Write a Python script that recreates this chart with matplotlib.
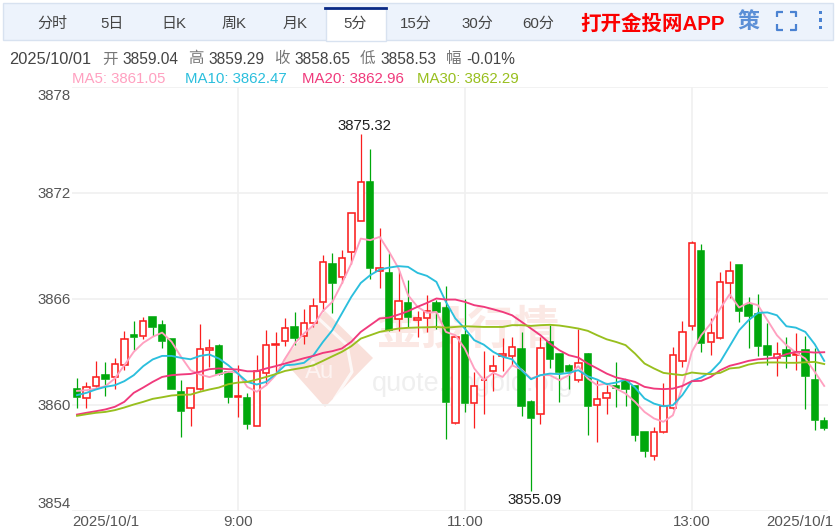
#!/usr/bin/env python3
# 5 minute gold candles with moving averages
import matplotlib
matplotlib.use('Agg')
from matplotlib import pyplot as plt
from matplotlib.patches import Polygon, Rectangle
from matplotlib.transforms import ScaledTranslation

plt.rcParams['font.family'] = ['Liberation Sans', 'Noto Sans CJK SC', 'DejaVu Sans']

opens = [3860.90, 3860.38, 3861.05, 3861.66, 3861.56, 3862.26, 3863.92, 3863.88, 3864.94, 3864.49,
         3863.73, 3860.73, 3859.81, 3860.90, 3863.09, 3863.30, 3861.85, 3860.41, 3860.39, 3858.81,
         3861.79, 3863.39, 3863.62, 3864.36, 3863.85, 3864.64, 3865.81, 3867.96, 3867.24, 3868.66,
         3870.41, 3872.58, 3867.53, 3867.47, 3864.83, 3865.72, 3864.81, 3864.90, 3865.72, 3865.49,
         3858.96, 3863.92, 3860.09, 3861.36, 3861.87, 3862.72, 3862.77, 3863.15, 3860.13, 3859.44,
         3863.51, 3862.87, 3862.17, 3861.36, 3862.87, 3860.00, 3860.39, 3861.02, 3861.34, 3861.02,
         3858.43, 3857.11, 3858.47, 3859.79, 3862.49, 3864.47, 3868.68, 3863.55, 3863.75, 3866.88,
         3867.90, 3865.62, 3865.15, 3863.30, 3862.66, 3863.07, 3862.83, 3863.07, 3861.38, 3859.04]
closes = [3860.43, 3861.00, 3861.56, 3861.47, 3862.28, 3863.70, 3863.83, 3864.75, 3864.39, 3863.60,
          3860.85, 3859.64, 3860.96, 3863.13, 3863.17, 3861.70, 3860.43, 3860.47, 3858.87, 3861.87,
          3863.34, 3863.45, 3864.34, 3863.77, 3864.64, 3865.60, 3868.07, 3866.88, 3868.30, 3870.85,
          3872.60, 3867.73, 3867.75, 3864.21, 3865.88, 3864.96, 3864.87, 3865.30, 3865.24, 3860.15,
          3863.83, 3860.09, 3861.05, 3861.41, 3862.19, 3862.85, 3863.26, 3859.92, 3859.22, 3863.21,
          3862.55, 3861.85, 3861.87, 3862.36, 3859.92, 3860.30, 3860.66, 3860.94, 3860.85, 3858.30,
          3857.38, 3858.47, 3859.90, 3862.79, 3864.13, 3869.15, 3863.47, 3864.07, 3866.96, 3867.53,
          3865.30, 3865.00, 3863.30, 3862.81, 3862.87, 3862.77, 3862.88, 3861.62, 3859.15, 3858.65]
highs = [3861.51, 3861.28, 3862.45, 3862.41, 3862.66, 3864.15, 3864.70, 3864.96, 3864.96, 3864.77,
         3863.73, 3861.41, 3860.96, 3864.55, 3863.73, 3863.45, 3861.85, 3862.26, 3860.66, 3862.79,
         3864.21, 3864.11, 3864.87, 3865.24, 3865.38, 3866.04, 3868.45, 3868.55, 3868.73, 3870.86,
         3875.32, 3874.49, 3870.01, 3868.58, 3867.56, 3867.04, 3865.28, 3866.22, 3865.90, 3866.70,
         3863.87, 3866.00, 3861.85, 3863.04, 3862.83, 3863.79, 3863.83, 3864.11, 3860.24, 3863.83,
         3864.49, 3862.88, 3862.28, 3864.30, 3862.94, 3861.38, 3861.09, 3862.41, 3861.38, 3861.04,
         3858.45, 3858.70, 3861.19, 3863.24, 3864.72, 3869.26, 3869.11, 3864.87, 3867.49, 3868.13,
         3867.92, 3866.09, 3866.26, 3864.64, 3863.51, 3863.81, 3864.02, 3863.88, 3863.22, 3859.29]
lows = [3859.81, 3859.81, 3861.00, 3860.49, 3860.90, 3861.98, 3863.07, 3863.68, 3863.87, 3863.21,
        3860.85, 3858.17, 3858.77, 3860.81, 3862.13, 3861.66, 3860.09, 3859.30, 3858.64, 3858.77,
        3861.09, 3861.85, 3863.32, 3863.36, 3863.41, 3864.39, 3865.30, 3865.19, 3866.85, 3867.98,
        3870.39, 3867.13, 3866.60, 3864.17, 3864.17, 3864.36, 3863.83, 3864.11, 3864.30, 3858.02,
        3858.92, 3859.58, 3858.68, 3859.45, 3860.77, 3861.88, 3862.26, 3859.36, 3855.09, 3858.92,
        3862.04, 3860.15, 3860.85, 3861.28, 3858.27, 3857.88, 3859.49, 3859.87, 3859.90, 3857.92,
        3857.04, 3856.88, 3858.39, 3859.75, 3862.13, 3864.21, 3862.98, 3862.81, 3863.73, 3866.05,
        3864.68, 3863.21, 3862.73, 3862.21, 3861.62, 3862.07, 3861.94, 3859.75, 3858.53, 3858.53]

ma5 = [3860.77, 3860.81, 3860.90, 3861.04, 3861.47, 3862.22, 3862.98, 3863.49, 3863.83, 3864.07,
       3863.55, 3862.70, 3861.94, 3861.70, 3861.55, 3861.72, 3861.85, 3861.81, 3861.00, 3860.72,
       3861.09, 3861.66, 3862.60, 3863.45, 3864.02, 3864.49, 3865.30, 3865.81, 3866.85, 3867.98,
       3869.39, 3869.30, 3869.49, 3868.64, 3867.70, 3866.19, 3865.53, 3865.19, 3865.24, 3864.11,
       3863.92, 3863.17, 3862.04, 3861.38, 3861.79, 3861.56, 3862.22, 3861.98, 3861.47, 3861.66,
       3861.66, 3861.38, 3861.66, 3862.17, 3861.47, 3861.09, 3861.19, 3860.90, 3860.62, 3860.15,
       3859.58, 3859.21, 3859.02, 3859.39, 3861.00, 3862.98, 3863.92, 3864.58, 3865.43, 3866.24,
       3865.49, 3865.77, 3865.62, 3864.77, 3863.92, 3863.36, 3862.94, 3862.60, 3861.85, 3861.05]
ma10 = [3860.53, 3860.66, 3860.85, 3861.00, 3861.09, 3861.32, 3861.66, 3862.17, 3862.55, 3862.75,
        3862.75, 3862.64, 3862.56, 3862.75, 3862.83, 3862.60, 3862.22, 3861.75, 3861.28, 3861.13,
        3861.28, 3861.72, 3862.22, 3862.26, 3862.36, 3862.79, 3863.54, 3864.21, 3865.15, 3866.09,
        3866.88, 3867.32, 3867.64, 3867.75, 3867.83, 3867.79, 3867.45, 3867.28, 3866.94, 3865.81,
        3864.87, 3864.30, 3863.64, 3863.39, 3862.98, 3862.70, 3862.56, 3861.94, 3861.43, 3861.66,
        3861.75, 3861.72, 3861.79, 3861.94, 3861.60, 3861.41, 3861.15, 3861.24, 3861.41, 3860.96,
        3860.34, 3860.05, 3859.90, 3859.96, 3860.53, 3861.32, 3861.53, 3861.85, 3862.41, 3863.30,
        3864.20, 3864.77, 3865.19, 3865.21, 3865.05, 3864.43, 3864.35, 3864.11, 3863.41, 3862.47]
ma20 = [3859.43, 3859.53, 3859.62, 3859.72, 3859.87, 3860.15, 3860.66, 3860.96, 3861.28, 3861.56,
        3861.66, 3861.70, 3861.73, 3861.85, 3862.00, 3862.04, 3862.00, 3861.98, 3861.88, 3861.88,
        3862.04, 3862.17, 3862.32, 3862.47, 3862.62, 3862.75, 3862.92, 3863.02, 3863.17, 3863.55,
        3864.11, 3864.49, 3864.87, 3864.92, 3865.09, 3865.28, 3865.53, 3865.75, 3866.00, 3865.94,
        3865.94, 3865.81, 3865.62, 3865.53, 3865.39, 3865.24, 3865.05, 3864.68, 3864.30, 3863.92,
        3863.45, 3863.07, 3862.79, 3862.66, 3862.32, 3862.04, 3861.75, 3861.53, 3861.41, 3861.28,
        3861.00, 3860.90, 3860.87, 3860.90, 3861.05, 3861.32, 3861.34, 3861.56, 3861.94, 3862.19,
        3862.32, 3862.47, 3862.56, 3862.60, 3862.66, 3862.85, 3862.98, 3862.98, 3862.94, 3862.96]
ma30 = [3859.36, 3859.45, 3859.53, 3859.58, 3859.68, 3859.83, 3860.00, 3860.15, 3860.32, 3860.41,
        3860.51, 3860.55, 3860.56, 3860.72, 3860.85, 3860.96, 3861.15, 3861.24, 3861.28, 3861.41,
        3861.56, 3861.72, 3861.90, 3862.00, 3862.09, 3862.22, 3862.47, 3862.73, 3862.98, 3863.30,
        3863.73, 3863.92, 3864.11, 3864.21, 3864.30, 3864.34, 3864.36, 3864.37, 3864.39, 3864.35,
        3864.39, 3864.43, 3864.41, 3864.39, 3864.39, 3864.39, 3864.49, 3864.49, 3864.45, 3864.49,
        3864.51, 3864.47, 3864.39, 3864.30, 3864.17, 3863.92, 3863.69, 3863.54, 3863.36, 3862.88,
        3862.32, 3862.04, 3861.79, 3861.72, 3861.66, 3861.81, 3861.75, 3861.72, 3861.79, 3862.04,
        3862.09, 3862.26, 3862.36, 3862.38, 3862.38, 3862.36, 3862.36, 3862.39, 3862.41, 3862.29]

ma_names = ['MA5', 'MA10', 'MA20', 'MA30']
ma_series = [ma5, ma10, ma20, ma30]
ma_colors = ['#ffa0c0', '#2bbfdd', '#f03a7c', '#98bf1e']
ma_label_x = [72, 185, 302, 417]

y_ticks = [3854, 3860, 3866, 3872, 3878]
x_tick_pos = [0, 17, 41, 65, 79]
x_tick_labels = ['2025/10/1', '9:00', '11:00', '13:00', '2025/10/1']

tabs = ['分时', '5日', '日K', '周K', '月K', '5分', '15分', '30分', '60分']
tab_x = [52, 112, 174, 234, 295, 355, 416, 477, 538]

header = ['2025/10/01', '开', '3859.04', '高', '3859.29', '收', '3858.65', '低', '3858.53', '幅', '-0.01%']
header_x = [9, 102, 122, 188, 208, 274, 294, 360, 380, 446, 466]

RED = '#fa1e1e'
GREEN = '#00a80c'
GRID = '#f0f0f0'
TEXT = '#555555'


def px(size):
    return size * 0.72


def draw_page(bg):
    # tab bar
    bg.add_patch(Rectangle((3, 3), 830, 37, fc='#edf3fc', ec='#d8e2f0', lw=1))
    bg.add_patch(Rectangle((325.5, 8), 60, 33, fc='white', ec='#d8e2f0', lw=1, zorder=2))
    bg.plot([325, 386], [8, 8], color='#0a2a86', lw=2, zorder=3)
    for name, x in zip(tabs, tab_x):
        bg.text(x, 24, name, ha='center', va='center', fontsize=px(15), color='#444444', zorder=4)
    bg.text(580, 24, '打开金投网APP', ha='left', va='center', fontsize=px(20.5), color='#fb0000',
            fontweight='bold')
    bg.text(748, 23, '策', ha='center', va='center', fontsize=px(22), color='#5b8fd6', fontweight='bold')

    # full screen corners and the menu dots
    corners = [([777, 777, 783], [17, 11.5, 11.5]), ([790, 796, 796], [11.5, 11.5, 17]),
               ([777, 777, 783], [24, 29.5, 29.5]), ([790, 796, 796], [29.5, 29.5, 24])]
    for cx, cy in corners:
        bg.plot(cx, cy, color='#4a82d2', lw=1.6, solid_capstyle='butt')
    for dy in [12.5, 20, 27.5]:
        bg.add_patch(Rectangle((818.5, dy - 1.7), 3.4, 3.4, fc='#4a82d2', ec='none'))

    for text, x in zip(header, header_x):
        is_cjk = len(text) == 1
        size = 16.4 if text == header[0] else 15.5
        bg.text(x, 59, text, ha='left', va='center', fontsize=px(size),
                color='#777777' if is_cjk else '#444444')

    # watermark
    bg.add_patch(Polygon([(283, 360), (325, 311), (373, 358), (325, 407)], fc='#f9e0da', ec='none'))
    bg.plot([318, 347, 352, 335], [318, 345, 372, 398], color='white', lw=2.2, alpha=0.8)
    bg.text(320, 372, 'Au', ha='center', va='center', fontsize=px(24), color='#fdf3f1')
    bg.text(375, 332, '金投行情', ha='left', va='center', fontsize=px(46), color='#fbe8e4',
            fontweight='bold')
    bg.text(372, 384, 'quote.cngold.org', ha='left', va='center', fontsize=px(27), color='#efefef')


def draw_candles(ax):
    for i in range(len(opens)):
        top = max(opens[i], closes[i])
        bottom = min(opens[i], closes[i])
        up = closes[i] >= opens[i]
        color = RED if up else GREEN
        ax.vlines(i, top, highs[i], color=color, lw=0.9, zorder=3)
        ax.vlines(i, lows[i], bottom, color=color, lw=0.9, zorder=3)
        ax.bar(i, top - bottom, bottom=bottom, width=0.68, facecolor='white' if up else color,
               edgecolor=color, lw=1.15, zorder=4)


fig = plt.figure(figsize=(8.36, 5.28), dpi=100)
bg = fig.add_axes([0, 0, 1, 1])
bg.set_xlim(0, 836)
bg.set_ylim(528, 0)
bg.axis('off')
draw_page(bg)

# chart area runs 72..828 px across and 86.5..510.5 px down
ax = fig.add_axes([72 / 836, (528 - 510.5) / 528, 756 / 836, 424 / 528])
ax.patch.set_alpha(0)
ax.set_xlim(-0.53, 79.4)
ax.set_ylim(3854, 3878)
for side in ax.spines:
    ax.spines[side].set_visible(False)

ax.set_yticks(y_ticks)
ax.set_yticklabels([str(v) for v in y_ticks])
ax.set_xticks(x_tick_pos)
ax.set_xticklabels(x_tick_labels)
ax.tick_params(length=0, labelsize=px(15), labelcolor=TEXT)
ax.tick_params(axis='y', pad=1)
ax.tick_params(axis='x', pad=3)
ax.set_axisbelow(True)
ax.grid(axis='y', color=GRID, lw=1.2, zorder=0)
for pos in x_tick_pos[1:-1]:
    ax.axvline(pos, color=GRID, lw=1.2, zorder=0)

ylabels = ax.get_yticklabels()
ylabels[0].set_va('bottom')
ylabels[-1].set_va('top')
ylabels[-1].set_transform(ylabels[-1].get_transform() + ScaledTranslation(0, -3 / 100, fig.dpi_scale_trans))
xlabels = ax.get_xticklabels()
xlabels[0].set_ha('left')
xlabels[0].set_transform(xlabels[0].get_transform() + ScaledTranslation(-5 / 100, 0, fig.dpi_scale_trans))
xlabels[-1].set_ha('right')
xlabels[-1].set_transform(xlabels[-1].get_transform() + ScaledTranslation(9 / 100, 0, fig.dpi_scale_trans))

draw_candles(ax)

for name, values, color, x in zip(ma_names, ma_series, ma_colors, ma_label_x):
    ax.plot(range(len(values)), values, color=color, lw=1.35, zorder=5)
    bg.text(x, 79, f'{name}: {values[-1]:.2f}', ha='left', va='center', fontsize=px(15), color=color)

i_high = highs.index(max(highs))
i_low = lows.index(min(lows))
ax.annotate(f'{highs[i_high]:.2f}', (i_high, highs[i_high]), xytext=(4, 8), textcoords='offset pixels',
            ha='center', va='center', fontsize=px(15), color='#222222', zorder=6)
ax.annotate(f'{lows[i_low]:.2f}', (i_low, lows[i_low]), xytext=(4, -9), textcoords='offset pixels',
            ha='center', va='center', fontsize=px(15), color='#222222', zorder=6)

fig.savefig('out.png', dpi=100)
